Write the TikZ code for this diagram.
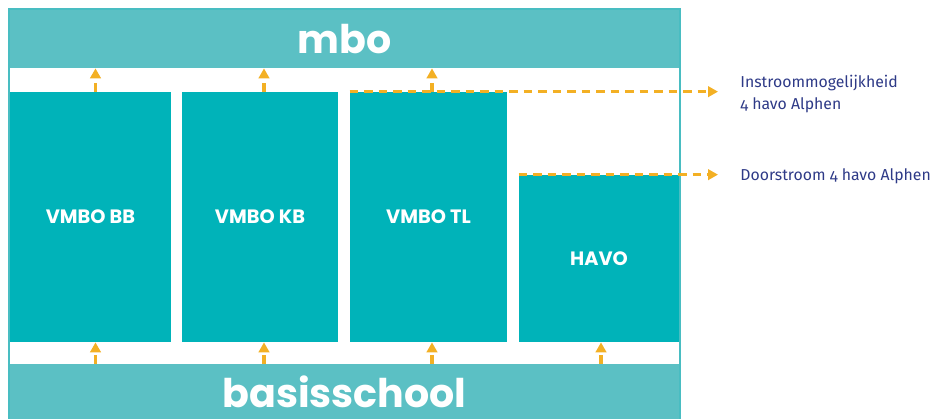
\documentclass[tikz,border=0pt]{standalone}
\usepackage{fontspec}
\setmainfont{Fira Sans}[Numbers=OldStyle]
\newfontfamily\headfont{Poppins}
\usetikzlibrary{arrows.meta}
\definecolor{bandteal}{HTML}{5BC0C4}
\definecolor{colteal}{HTML}{00B3B9}
\definecolor{flowgold}{HTML}{F3B024}
\definecolor{labelblue}{HTML}{2E3A87}
\tikzset{
  band/.style={rectangle,fill=bandteal,inner sep=0,minimum width=133.8mm,text=white,font=\headfont\bfseries\fontsize{22.5}{22.5}\selectfont},
  track/.style={rectangle,fill=colteal,inner sep=0,text=white,font=\headfont\bfseries\fontsize{11}{11}\selectfont},
  flow/.style={draw=flowgold,line width=0.7mm,dash pattern=on 1.7mm off 1.2mm,-{Triangle[width=2.1mm,length=2mm]}},
  sidelabel/.style={anchor=west,inner sep=0,align=left,text=labelblue,font=\fontsize{9}{12.5}\selectfont}
}
\begin{document}
\begin{tikzpicture}[x=0.2mm,y=-0.2mm]
\useasboundingbox (0,0) rectangle (936,419);

% frame and bands
\draw[bandteal!80!colteal,line width=0.25mm] (9,9) rectangle (680,419);
\node[band,minimum height=11.6mm] (mbo)   at (344.5,39)    {mbo};
\node[band,minimum height=11mm]   (basis) at (344.5,391.5) {basisschool};

% tracks
\node[track,minimum width=32.2mm,minimum height=50mm]   (bb)   at (90.5,217)  {VMBO BB};
\node[track,minimum width=31.2mm,minimum height=50mm]   (kb)   at (260,217)   {VMBO KB};
\node[track,minimum width=31.4mm,minimum height=50mm]   (tl)   at (428.5,217) {VMBO TL};
\node[track,minimum width=32mm,minimum height=33.4mm]   (havo) at (599,258.5) {HAVO};

% side labels
\node[sidelabel] (instroom) at (740,94)  {Instroommogelijkheid\\4 havo Alphen};
\node[sidelabel] (door)     at (740,176) {Doorstroom 4 havo Alphen};

% flows up from basisschool
\draw[flow] ([xshift=1mm]bb.south |- basis.north)   -- ([xshift=1mm]bb.south);
\draw[flow] ([xshift=0.8mm]kb.south |- basis.north) -- ([xshift=0.8mm]kb.south);
\draw[flow] ([xshift=0.7mm]tl.south |- basis.north) -- ([xshift=0.7mm]tl.south);
\draw[flow] ([xshift=0.4mm]havo.south |- basis.north) -- ([xshift=0.4mm]havo.south);

% flows up to mbo
\draw[flow] ([xshift=1mm]bb.north)   -- ([xshift=1mm]bb.north |- mbo.south);
\draw[flow] ([xshift=0.8mm]kb.north) -- ([xshift=0.8mm]kb.north |- mbo.south);
\draw[flow] ([xshift=0.7mm]tl.north) -- ([xshift=0.7mm]tl.north |- mbo.south);

% flows to havo Alphen
\draw[flow,shorten >=4.4mm] (tl.north west)   -- (tl.north west -| instroom.west);
\draw[flow,shorten >=4.4mm] (havo.north west) -- (havo.north west -| door.west);
\end{tikzpicture}
\end{document}
